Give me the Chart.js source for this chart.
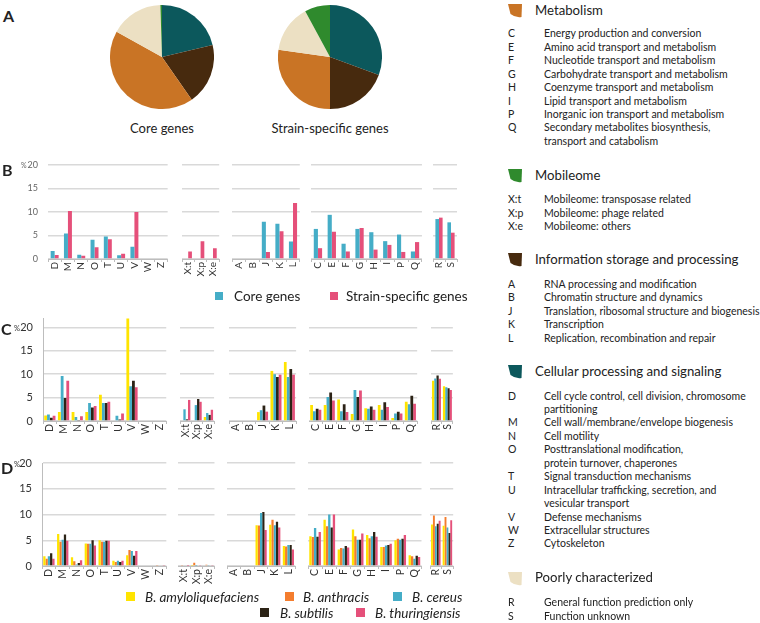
<!DOCTYPE html>
<html><head><meta charset="utf-8">
<script src="https://cdn.jsdelivr.net/npm/chart.js@4.4.0/dist/chart.umd.min.js"></script>
<style>
html,body{margin:0;padding:0;background:#fff}
body{width:760px;height:623px;position:relative;overflow:hidden;font-family:Lato,"Open Sans",sans-serif;color:#222}
.t{position:absolute;white-space:nowrap}
.sq{position:absolute}
.box{position:absolute}
.box canvas{display:block}
</style></head><body>
<script>
// ---------- DATA ----------
const pieLabels = ['Cellular processing and signaling','Information storage and processing','Metabolism','Poorly characterized','Mobileome'];
const coreShares = [21.3, 19.0, 42.8, 16.4, 0.5];
const strainShares = [30.6, 19.4, 27.2, 14.9, 7.9];

const categories = ['D','M','N','O','T','U','V','W','Z','X:t','X:p','X:e','A','B','J','K','L','C','E','F','G','H','I','P','Q','R','S'];
const groupSizes = [9, 3, 5, 8, 2];

// Panel B
const bCore   = [1.7,5.4,0.9,4.1,4.8,0.8,2.6,0,0, 0,0.15,0, 0,0,7.9,7.5,3.7, 6.4,9.4,3.25,6.4,5.7,3.8,5.2,1.6, 8.5,7.8];
const bStrain = [0.85,10.2,0.7,2.5,4.2,1.1,10.0,0,0, 1.6,3.8,2.3, 0,0,1.5,5.9,11.9, 2.3,5.8,1.6,6.6,2.0,3.0,1.5,3.6, 8.8,5.6];

// Panel C
const cAmy = [1.2,1.9,1.9,1.9,5.6,0,21.9,0,0, 0,0,0.85, 0,0,1.9,10.7,12.6, 3.4,3.4,4.6,1.5,2.7,3.4,0.65,4.1, 8.6,7.4];
const cCer = [1.4,9.6,0.85,3.85,3.85,1.1,7.4,0,0, 2.5,3.4,1.7, 0,0,2.3,10.0,9.4, 2.1,5.1,2.1,6.6,2.6,2.4,1.6,3.6, 9.1,7.2];
const cSub = [0.7,4.9,0.2,2.9,3.85,0.3,8.6,0,0, 0.35,4.7,1.3, 0,0,3.3,9.4,11.1, 2.6,6.1,3.6,5.1,3.1,4.0,2.0,5.4, 9.7,7.0];
const cThu = [1.1,8.6,1.0,3.2,4.1,1.6,7.2,0,0, 4.5,4.1,2.4, 0,0,2.0,9.9,9.9, 2.4,4.4,1.9,6.5,2.4,3.0,1.6,3.7, 9.0,6.6];

// Panel D
const dAmy = [1.9,6.2,1.7,4.35,5.0,1.0,2.1,0,0, 0,0.05,0, 0,0,7.9,8.0,3.9, 5.8,9.0,3.2,7.1,6.0,3.7,5.0,2.1, 8.05,7.8];
const dAnt = [1.4,4.7,0.9,4.3,4.7,0.8,3.1,0,0.1, 0.1,0.65,0.25, 0,0,7.85,9.0,3.8, 5.65,7.7,3.5,5.8,5.4,3.7,5.3,1.9, 9.8,9.5];
const dCer = [1.9,5.1,0.3,4.3,4.7,1.0,2.9,0,0, 0,0.05,0.1, 0,0,10.3,7.9,4.1, 7.4,10.0,3.4,5.1,5.8,4.0,5.1,1.4, 7.7,7.5];
const dSub = [2.5,6.1,0.6,5.0,4.9,0.8,2.0,0,0, 0,0,0, 0,0,10.5,8.6,4.1, 5.7,7.5,3.9,5.1,6.6,4.1,5.3,2.0, 8.2,6.4];
const dThu = [1.4,4.9,1.1,4.0,4.9,1.0,2.9,0,0.1, 0.05,0.1,0.1, 0,0,7.0,7.5,3.2, 6.6,10.0,3.6,6.3,5.7,4.3,6.0,1.75, 8.8,8.9];

// ---------- STYLE / LAYOUT ----------
const COL = {teal:'#0c585c', brown:'#472a0e', orange:'#c97425', beige:'#ece0c3', green:'#2f8a2d',
  cyan:'#45adc7', pink:'#e5507a', yellow:'#ffe400', orng:'#f47d2e', dark:'#2c2316'};
const pieColors = [COL.teal, COL.brown, COL.orange, COL.beige, COL.green];
Chart.defaults.font.family = 'Lato, "Open Sans", sans-serif';
Chart.defaults.animation = false;

function addText(txt, x, yc, size, opts={}) {
  const d = document.createElement('div');
  d.className = 't';
  d.textContent = txt;
  const lh = Math.round(size*1.3);
  d.style.left = x + 'px';
  d.style.top = (yc - lh/2) + 'px';
  d.style.fontSize = size + 'px';
  d.style.lineHeight = lh + 'px';
  if (opts.bold) d.style.fontWeight = 'bold';
  if (opts.italic) d.style.fontStyle = 'italic';
  if (opts.color) d.style.color = opts.color;
  if (opts.center) { d.style.transform = 'translateX(-50%)'; }
  document.body.appendChild(d);
  return d;
}
function addSquare(x, y, s, color) {
  const d = document.createElement('div');
  d.className = 'sq';
  d.style.cssText = `left:${x}px;top:${y}px;width:${s}px;height:${s}px;background:${color}`;
  document.body.appendChild(d);
}
function makeBox(left, top, w, h) {
  const d = document.createElement('div');
  d.className = 'box';
  d.style.cssText = `left:${left}px;top:${top}px;width:${w}px;height:${h}px`;
  const c = document.createElement('canvas');
  d.appendChild(c);
  document.body.appendChild(d);
  return c;
}

// ---------- PANEL A: pies ----------
function pie(cx, cy, r, values) {
  const c = makeBox(cx - r, cy - r, 2*r, 2*r);
  new Chart(c, {type:'pie',
    data:{labels:pieLabels, datasets:[{data:values, backgroundColor:pieColors, borderWidth:0}]},
    options:{responsive:true, maintainAspectRatio:false, layout:{padding:0},
      plugins:{legend:{display:false}, tooltip:{enabled:false}}}});
}
pie(162, 57, 52, coreShares);
pie(330, 57, 52, strainShares);
addText('Core genes', 162, 128, 13, {center:true});
addText('Strain-specific genes', 330, 128, 13, {center:true});

// ---------- BAR PANELS ----------
function slices(arr) {
  const out = []; let i = 0;
  for (const n of groupSizes) { out.push(arr.slice(i, i+n)); i += n; }
  return out;
}
function panel(cfg) {
  const catGroups = slices(categories);
  const dsGroups = cfg.series.map(s => slices(s.data));
  const padTop = 20;
  const areaH = cfg.yZero - cfg.yTopPx;
  cfg.groups.forEach((g, gi) => {
    const first = gi === 0;
    const x0 = g[0], x1 = g[1];
    const yW = first ? x0 : 0;
    const left = first ? 0 : x0;
    const w = x1 - left;
    const top = cfg.yTopPx - padTop;
    const h = padTop + areaH + cfg.xH;
    const c = makeBox(left, top, w, h);
    new Chart(c, {type:'bar',
      data:{labels:catGroups[gi], datasets: cfg.series.map((s, si) => ({
        data: dsGroups[si][gi], backgroundColor: s.color, borderWidth:0,
        barPercentage:1, categoryPercentage: cfg.cp }))},
      options:{responsive:true, maintainAspectRatio:false,
        layout:{padding:{top:padTop, left:0, right:0, bottom:0}},
        plugins:{legend:{display:false}, tooltip:{enabled:false}},
        scales:{
          x:{type:'category', offset:true,
            grid:{display:true, drawOnChartArea:false, drawTicks:true, tickLength:3, color:'#bdbdbd', offset:true, lineWidth:1},
            border:{display:true, color:'#bdbdbd', width:1},
            ticks:{minRotation:90, maxRotation:90, autoSkip:false, padding:0,
              font:{size:cfg.xFont}, color:'#333'},
            afterFit(s){ s.height = cfg.xH; }},
          y:{min:0, max:cfg.max,
            ticks:{stepSize:5, includeBounds:false, display:first, padding:10,
              font:{size:cfg.yFont}, color:cfg.yColor},
            grid:{color:'#d9d9d9', lineWidth:1.5, drawTicks:false},
            border:{display: first && cfg.yBorder, color:'#bdbdbd', width:1},
            afterFit(s){ s.width = yW; }}
        }}});
  });
}

panel({yTopPx:165, yZero:259, max:20, xH:25, cp:0.6, xFont:10, yFont:9, yColor:'#666', yBorder:false,
  groups:[[48,173],[182,225],[232,305],[311,427],[433,463]],
  series:[{data:bCore, color:COL.cyan},{data:bStrain, color:COL.pink}]});

panel({yTopPx:318, yZero:421, max:22, xH:26, cp:0.82, xFont:10.5, yFont:11, yColor:'#333', yBorder:true,
  groups:[[43,172],[180,221],[229,302],[309,423],[431,460]],
  series:[{data:cAmy, color:COL.yellow},{data:cCer, color:COL.cyan},{data:cSub, color:COL.dark},{data:cThu, color:COL.pink}]});

panel({yTopPx:463, yZero:566, max:20, xH:26, cp:0.82, xFont:10.5, yFont:11, yColor:'#333', yBorder:true,
  groups:[[42,172],[178,221],[227,301],[308,427],[430,460]],
  series:[{data:dAmy, color:COL.yellow},{data:dAnt, color:COL.orng},{data:dCer, color:COL.cyan},{data:dSub, color:COL.dark},{data:dThu, color:COL.pink}]});

// panel letters and % marks
addText('A', 3, 15, 16, {bold:true});
addText('B', 2, 169, 16, {bold:true});
addText('C', 1, 328, 16, {bold:true});
addText('D', 1, 467, 16, {bold:true});
addText('%', 21, 165, 7, {color:'#666'});
addText('%', 14, 329, 7.5, {color:'#333'});
addText('%', 14, 465, 7.5, {color:'#333'});

// legend B
addSquare(215, 292, 8, COL.cyan);
addText('Core genes', 234, 296, 13.5);
addSquare(330, 292, 8, COL.pink);
addText('Strain-specific genes', 346, 296, 13.5);

// legend D
addSquare(126, 592, 9, COL.yellow); addText('B. amyloliquefaciens', 145, 597, 13.5, {italic:true});
addSquare(285, 592, 9, COL.orng);   addText('B. anthracis', 303, 597, 13.5, {italic:true});
addSquare(393, 592, 9, COL.cyan);   addText('B. cereus', 412, 597, 13.5, {italic:true});
addSquare(260, 608, 9, COL.dark);   addText('B. subtilis', 280, 613, 13.5, {italic:true});
addSquare(356, 608, 9, COL.pink);   addText('B. thuringiensis', 375, 613, 13.5, {italic:true});

// ---------- RIGHT LEGEND ----------
function icon(x, y, color) {
  const ns = 'http://www.w3.org/2000/svg';
  const s = document.createElementNS(ns, 'svg');
  s.setAttribute('width', 15); s.setAttribute('height', 14);
  s.style.cssText = `position:absolute;left:${x}px;top:${y}px`;
  const p = document.createElementNS(ns, 'path');
  p.setAttribute('d', 'M0,0 L14,0 L13.5,13 A14,14 0 0 1 2.5,10 Z');
  p.setAttribute('fill', color);
  s.appendChild(p);
  document.body.appendChild(s);
}
const legendSections = [
  {title:'Metabolism', color:COL.orange, y:10, items:[
    ['C','Energy production and conversion',33.3],['E','Amino acid transport and metabolism',46.7],
    ['F','Nucleotide transport and metabolism',60.1],['G','Carbohydrate transport and metabolism',73.5],
    ['H','Coenzyme transport and metabolism',87],['I','Lipid transport and metabolism',100.5],
    ['P','Inorganic ion transport and metabolism',114],['Q','Secondary metabolites biosynthesis,',127.3],
    ['','transport and catabolism',140.7]]},
  {title:'Mobileome', color:COL.green, y:175, items:[
    ['X:t','Mobileome: transposase related',199.3],['X:p','Mobileome: phage related',212.7],['X:e','Mobileome: others',226]]},
  {title:'Information storage and processing', color:COL.brown, y:259.3, items:[
    ['A','RNA processing and modification',284],['B','Chromatin structure and dynamics',297.3],
    ['J','Translation, ribosomal structure and biogenesis',310.7],['K','Transcription',324],
    ['L','Replication, recombination and repair',337.7]]},
  {title:'Cellular processing and signaling', color:COL.teal, y:371, items:[
    ['D','Cell cycle control, cell division, chromosome',395.7],['','partitioning',409],
    ['M','Cell wall/membrane/envelope  biogenesis',422.3],['N','Cell motility',435.7],
    ['O','Posttranslational modification,',449],['','protein turnover, chaperones',462.7],
    ['T','Signal transduction mechanisms',476],['U','Intracellular trafficking, secretion, and',489.7],
    ['','vesicular transport',503],['V','Defense  mechanisms',516.7],['W','Extracellular structures',530],
    ['Z','Cytoskeleton',543.3]]},
  {title:'Poorly characterized', color:COL.beige, y:577.7, items:[
    ['R','General function prediction only',602.3],['S','Function unknown',615.7]]}
];
for (const sec of legendSections) {
  icon(508, sec.y - 6, sec.color);
  addText(sec.title, 535, sec.y, 13.2);
  for (const [code, desc, y] of sec.items) {
    if (code) addText(code, 508, y, 10.5);
    addText(desc, 544, y, 10.5);
  }
}
</script>
</body></html>
